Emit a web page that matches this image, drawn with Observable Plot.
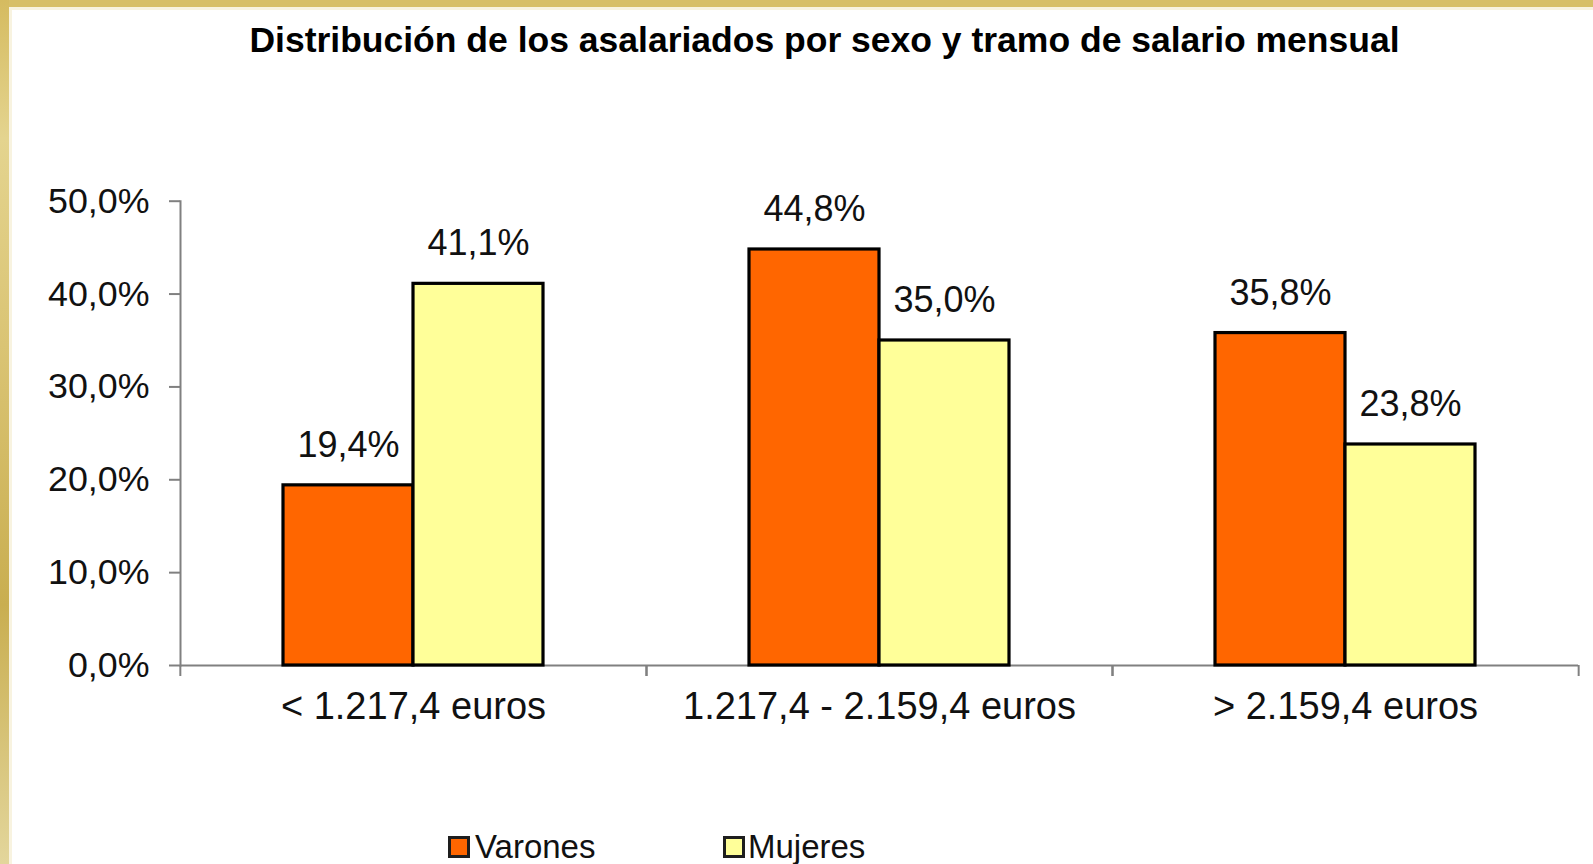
<!DOCTYPE html>
<html>
<head>
<meta charset="utf-8">
<script src="https://cdn.jsdelivr.net/npm/d3@7"></script>
<script src="https://cdn.jsdelivr.net/npm/@observablehq/plot@0.6"></script>
<style>
  html, body { margin: 0; padding: 0; background: #fff; }
  #page { position: relative; width: 1593px; height: 864px; overflow: hidden; background: #fff;
          font-family: Arial, "Liberation Sans", sans-serif; color: #000; }
  #topband { position: absolute; left: 0; top: 0; width: 100%; height: 7px; background: #d7bf68; }
  #topstrip { position: absolute; left: 0; top: 7px; width: 100%; height: 3px; background: #f8f3e0; }
  #leftband { position: absolute; left: 0; top: 0; width: 9px; height: 100%;
              background: linear-gradient(to bottom, #d5bb60 0%, #e4d48f 16%, #dac474 40%, #c9ae50 70%, #e3d69c 100%); }
  #leftstrip { position: absolute; left: 9px; top: 10px; width: 3px; height: 100%; background: #f8f3e0; }
  #title { position: absolute; left: 56px; right: 0; top: 22px; text-align: center; font-size: 35.5px;
           font-weight: bold; line-height: 36px; white-space: nowrap; }
  #chart { position: absolute; left: 0; top: 120px; }
  .sw { position: absolute; width: 22px; height: 22px; box-sizing: border-box; border: 3px solid #1e1e1e; }
  .lt { position: absolute; font-size: 33px; line-height: 33px; white-space: nowrap; color: #111; }
</style>
</head>
<body>
<div id="page">
  <div id="topband"></div>
  <div id="topstrip"></div>
  <div id="leftband"></div>
  <div id="leftstrip"></div>
  <div id="title"></div>
  <div id="chart"></div>
  <div id="legend"></div>
</div>
<script>
const titulo = "Distribución de los asalariados por sexo y tramo de salario mensual";
const tramos = ["< 1.217,4 euros", "1.217,4 - 2.159,4 euros", "> 2.159,4 euros"];
const sexos = ["Varones", "Mujeres"];
const varones = [19.4, 44.8, 35.8];
const mujeres = [41.1, 35.0, 23.8];
const colores = ["#FF6600", "#FFFF99"];
const yTicks = [0, 10, 20, 30, 40, 50];

const data = tramos.flatMap((t, i) => [
  {tramo: t, sexo: sexos[0], valor: varones[i]},
  {tramo: t, sexo: sexos[1], valor: mujeres[i]}
]);
const fmt = v => v.toFixed(1).replace(".", ",") + "%";

document.getElementById("title").textContent = titulo;

const W = 1593, H = 660, mL = 179, mR = 15, mT = 80.7, mB = 115;
const half = (W - mL - mR) / tramos.length / 2;
const axisGray = "#808080";

const chart = Plot.plot({
  width: W, height: H,
  marginLeft: mL, marginRight: mR, marginTop: mT, marginBottom: mB,
  style: {fontFamily: "Arial, 'Liberation Sans', sans-serif", background: "transparent", color: "#111", overflow: "visible"},
  fx: {domain: tramos, padding: 0, label: null},
  x: {domain: sexos, paddingInner: 0, paddingOuter: 0.78, axis: null},
  y: {domain: [0, 50], label: null},
  color: {domain: sexos, range: colores},
  marks: [
    Plot.frame({anchor: "left", stroke: axisGray, strokeWidth: 2, fx: [tramos[0]]}),
    Plot.ruleY([0], {stroke: axisGray, strokeWidth: 2}),
    Plot.barY(data, {fx: "tramo", x: "sexo", y: "valor", fill: "sexo", stroke: "#000", strokeWidth: 3.2}),
    Plot.text(data, {fx: "tramo", x: "sexo", y: "valor", text: d => fmt(d.valor), dy: -40, fontSize: 36, lineAnchor: "middle", fill: "#111"}),
    Plot.axisY({ticks: yTicks, tickFormat: fmt, tickSize: 11, tickPadding: 20, fontSize: 35.8, stroke: axisGray, strokeWidth: 2, label: null}),
    Plot.axisFx({anchor: "bottom", tickSize: 0, tickPadding: 27, fontSize: 38, label: null}),
    Plot.axisFx({anchor: "bottom", tickSize: 11, dx: -half, tickFormat: () => "", stroke: axisGray, strokeWidth: 2, label: null}),
    Plot.axisFx({anchor: "bottom", tickSize: 11, dx: half, tickFormat: () => "", stroke: axisGray, strokeWidth: 2, label: null})
  ]
});
document.getElementById("chart").appendChild(chart);

const legend = document.getElementById("legend");
const legPos = [[448, 475], [723, 748]];
sexos.forEach((s, i) => {
  const sw = document.createElement("div");
  sw.className = "sw";
  sw.style.left = legPos[i][0] + "px";
  sw.style.top = "836px";
  sw.style.background = colores[i];
  legend.appendChild(sw);
  const t = document.createElement("div");
  t.className = "lt";
  t.style.left = legPos[i][1] + "px";
  t.style.top = "830px";
  t.textContent = s;
  legend.appendChild(t);
});
</script>
</body>
</html>
